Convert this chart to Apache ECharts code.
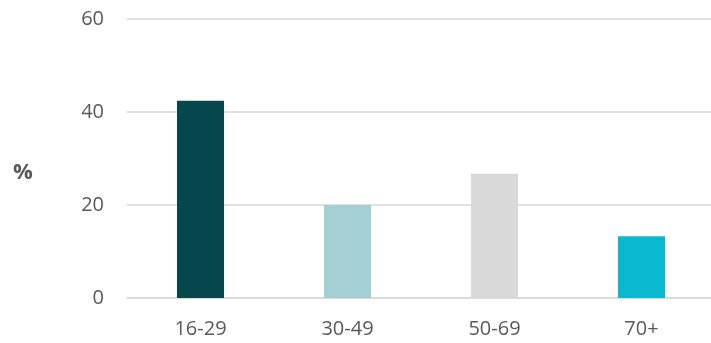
<!DOCTYPE html>
<html>
<head>
<meta charset="utf-8">
<script src="https://cdn.jsdelivr.net/npm/echarts@6/dist/echarts.min.js"></script>
<style>
  html, body { margin: 0; padding: 0; background: #ffffff; }
  #chart { width: 711px; height: 343px; }
</style>
</head>
<body>
<div id="chart"></div>
<script>
// Age groups and share (%) for each group
const categories = ['16-29', '30-49', '50-69', '70+'];
const values = [42.4, 20.0, 26.7, 13.3];
const barColors = ['#06474d', '#a5d0d3', '#d9d9d9', '#0ab9cf'];
const yTicks = [0, 20, 40, 60];

const chart = echarts.init(document.getElementById('chart'), null, { renderer: 'canvas' });

const fontFamily = '"Open Sans", "Noto Sans", sans-serif';

chart.setOption({
  animation: false,
  backgroundColor: '#ffffff',
  grid: {
    left: 127, top: 19, width: 588, height: 279,
    containLabel: false,
    outerBoundsMode: 'none'
  },
  graphic: [{
    type: 'text',
    left: 13,
    top: 162,
    style: { text: '%', fill: '#595959', font: 'bold 22px ' + fontFamily }
  }],
  xAxis: {
    type: 'category',
    data: categories,
    axisLine: { show: true, lineStyle: { color: '#d9d9d9', width: 1.5 } },
    axisTick: { show: false },
    axisLabel: { color: '#595959', fontSize: 20, fontFamily: fontFamily, margin: 21 }
  },
  yAxis: {
    type: 'value',
    min: yTicks[0],
    max: yTicks[yTicks.length - 1],
    interval: 20,
    axisLine: { show: false },
    axisTick: { show: false },
    splitLine: { lineStyle: { color: '#d9d9d9', width: 1.5 } },
    axisLabel: { color: '#595959', fontSize: 20, fontFamily: fontFamily, margin: 23 }
  },
  series: [{
    type: 'bar',
    barWidth: 47,
    data: values.map((v, i) => ({ value: v, itemStyle: { color: barColors[i] } }))
  }]
});
</script>
</body>
</html>
